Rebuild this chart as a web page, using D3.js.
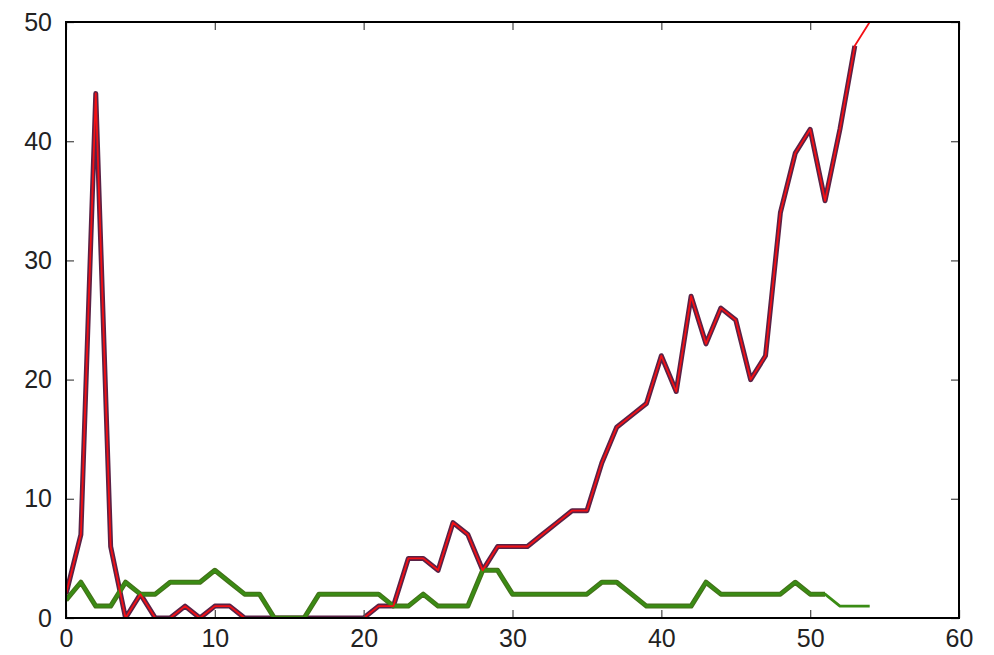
<!DOCTYPE html>
<html lang="en">
<head>
  <meta charset="UTF-8">
  <title>Chart</title>
  <style>
    html, body { margin: 0; padding: 0; background: #fff; }
    svg { display: block; }
    .tick text { font-family: "Liberation Sans", Arial, sans-serif; font-size: 25px; fill: #222; }
  </style>
</head>
<body>
  <div id="my-div"></div>
  <script src="https://d3js.org/d3.v7.min.js"></script>
  <script>
    // values, one per x step
    var seriesA = [2, 7, 44, 6, 0, 2, 0, 0, 1, 0, 1, 1, 0, 0, 0, 0, 0, 0, 0, 0,
                   0, 1, 1, 5, 5, 4, 8, 7, 4, 6, 6, 6, 7, 8, 9, 9, 13, 16, 17, 18,
                   22, 19, 27, 23, 26, 25, 20, 22, 34, 39, 41, 35, 41, 48, 50];
    var seriesG = [1.5, 3, 1, 1, 3, 2, 2, 3, 3, 3, 4, 3, 2, 2, 0, 0, 0, 2, 2, 2,
                   2, 2, 1, 1, 2, 1, 1, 1, 4, 4, 2, 2, 2, 2, 2, 2, 3, 3, 2, 1,
                   1, 1, 1, 3, 2, 2, 2, 2, 2, 3, 2, 2, 1, 1, 1];
    // the darker, thicker copies stop a bit earlier
    var lastDarkA = 53;
    var lastDarkG = 51;
    var xTicks = [0, 10, 20, 30, 40, 50, 60];
    var yTicks = [0, 10, 20, 30, 40, 50];

    // note: "top" is taken by window.top, so use other names
    var width = 994, height = 655;
    var plotL = 66, plotR = 959, plotT = 22, plotB = 618;

    var svg = d3.select("#my-div").append("svg")
        .attr("width", width)
        .attr("height", height);

    var x = d3.scaleLinear().domain([0, 60]).range([plotL, plotR]);
    var y = d3.scaleLinear().domain([0, 50]).range([plotB, plotT]);

    svg.append("clipPath").attr("id", "plot-clip")
      .append("rect")
        .attr("x", plotL).attr("y", plotT)
        .attr("width", plotR - plotL).attr("height", plotB - plotT);

    var lineFunc = d3.line()
        .x(function(d, i) { return x(i); })
        .y(function(d) { return y(d); });

    var g = svg.append("g").attr("clip-path", "url(#plot-clip)");

    function draw(data, color, w) {
      g.append("path")
        .attr("d", lineFunc(data))
        .attr("fill", "none")
        .attr("stroke", color)
        .attr("stroke-width", w)
        .attr("stroke-linejoin", "round");
    }

    draw(seriesA.slice(0, lastDarkA + 1), "#5a2246", 5);
    draw(seriesG.slice(0, lastDarkG + 1), "#44701a", 5);
    draw(seriesG, "#3a8c14", 2.8);
    draw(seriesA, "#f40f14", 1.8);

    // axes, ticks pointing inward on all four sides
    svg.append("g")
        .attr("transform", "translate(0," + plotB + ")")
        .call(d3.axisBottom(x).tickValues(xTicks).tickSize(-8).tickPadding(11));
    svg.append("g")
        .attr("transform", "translate(0," + plotT + ")")
        .call(d3.axisTop(x).tickValues(xTicks).tickSize(-8).tickFormat(""));
    svg.append("g")
        .attr("transform", "translate(" + plotL + ",0)")
        .call(d3.axisLeft(y).tickValues(yTicks).tickSize(-8).tickPadding(14));
    svg.append("g")
        .attr("transform", "translate(" + plotR + ",0)")
        .call(d3.axisRight(y).tickValues(yTicks).tickSize(-8).tickFormat(""));

    svg.selectAll(".domain").remove();
    svg.selectAll(".tick line").attr("stroke", "#555").attr("stroke-width", 1.3);

    svg.append("rect")
        .attr("x", plotL).attr("y", plotT)
        .attr("width", plotR - plotL).attr("height", plotB - plotT)
        .attr("fill", "none")
        .attr("stroke", "#000")
        .attr("stroke-width", 2);
  </script>
</body>
</html>
